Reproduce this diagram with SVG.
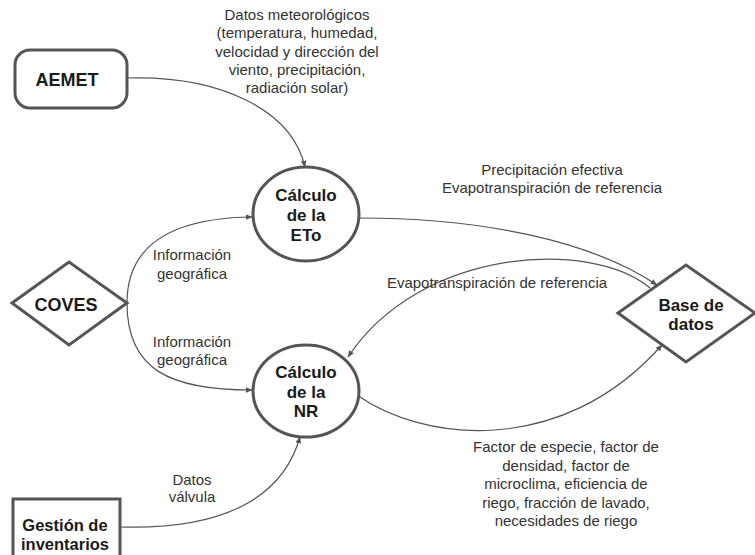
<svg xmlns="http://www.w3.org/2000/svg" width="755" height="555" viewBox="0 0 755 555">
<defs>
<style>
.node{fill:#fff;stroke:#555;stroke-width:3}
.nt{font-family:"Liberation Sans",Arial,sans-serif;font-weight:bold;font-size:17px;fill:#1a1a1a;text-anchor:middle}
.lbl{font-family:"Liberation Sans",Arial,sans-serif;font-size:15px;fill:#333;text-anchor:middle}
.edge{fill:none;stroke:#555;stroke-width:1.2;marker-end:url(#arr)}
</style>
<marker id="arr" viewBox="0 0 10 10" refX="9" refY="5" markerWidth="7" markerHeight="7" markerUnits="userSpaceOnUse" orient="auto">
<path d="M0,1 L10,5 L0,9 Z" fill="#555"/>
</marker>
</defs>
<rect width="755" height="555" fill="#fff"/>
<g id="connectors">
<path class="edge" d="M127,78 C220,75 292,110 305,167"/>
<path class="edge" d="M127,303 C127,240 180,218 252,217"/>
<path class="edge" d="M127,303 C127,370 170,390 252,390"/>
<path class="edge" d="M359,218 C480,218 590,240 657,285"/>
<path class="edge" d="M650,288 C590,238 420,248 348,357"/>
<path class="edge" d="M357,395 C420,440 560,460 662,345"/>
<path class="edge" d="M120,527 C220,530 282,500 300,437"/>
</g>
<g id="labels">
<text class="lbl" x="297" y="20">Datos meteorológicos</text>
<text class="lbl" x="297" y="38">(temperatura, humedad,</text>
<text class="lbl" x="297" y="57">velocidad y dirección del</text>
<text class="lbl" x="297" y="75">viento, precipitación,</text>
<text class="lbl" x="297" y="93">radiación solar)</text>
<text class="lbl" x="552" y="175">Precipitación efectiva</text>
<text class="lbl" x="552" y="193">Evapotranspiración de referencia</text>
<text class="lbl" x="497" y="288">Evapotranspiración de referencia</text>
<text class="lbl" x="192" y="260">Información</text>
<text class="lbl" x="192" y="279">geográfica</text>
<text class="lbl" x="192" y="347">Información</text>
<text class="lbl" x="192" y="365">geográfica</text>
<text class="lbl" x="192" y="485">Datos</text>
<text class="lbl" x="192" y="502">válvula</text>
<text class="lbl" x="566" y="452">Factor de especie, factor de</text>
<text class="lbl" x="566" y="471">densidad, factor de</text>
<text class="lbl" x="566" y="489">microclima, eficiencia de</text>
<text class="lbl" x="566" y="508">riego, fracción de lavado,</text>
<text class="lbl" x="566" y="526">necesidades de riego</text>
</g>
<g id="aemet">
<rect class="node" x="15" y="50" width="112" height="58" rx="15"/>
<text class="nt" x="67" y="86" style="font-size:18px">AEMET</text>
</g>
<g id="coves">
<polygon class="node" points="12,303 69,262 127,303 69,345"/>
<text class="nt" x="66" y="311" style="font-size:18px">COVES</text>
</g>
<g id="gestion">
<rect class="node" x="13" y="499" width="107" height="70"/>
<text class="nt" x="65" y="531" style="font-size:16.5px">Gestión de</text>
<text class="nt" x="65" y="550" style="font-size:16.5px">inventarios</text>
</g>
<g id="eto">
<ellipse class="node" cx="306" cy="214" rx="53" ry="47"/>
<text class="nt" x="306" y="201">Cálculo</text>
<text class="nt" x="306" y="221">de la</text>
<text class="nt" x="306" y="241">ETo</text>
</g>
<g id="nr">
<ellipse class="node" cx="306" cy="391" rx="53" ry="46"/>
<text class="nt" x="306" y="378">Cálculo</text>
<text class="nt" x="306" y="398">de la</text>
<text class="nt" x="306" y="417">NR</text>
</g>
<g id="base">
<polygon class="node" points="618,313 686,265 755,313 686,362"/>
<text class="nt" x="691" y="311">Base de</text>
<text class="nt" x="691" y="330">datos</text>
</g>
</svg>
